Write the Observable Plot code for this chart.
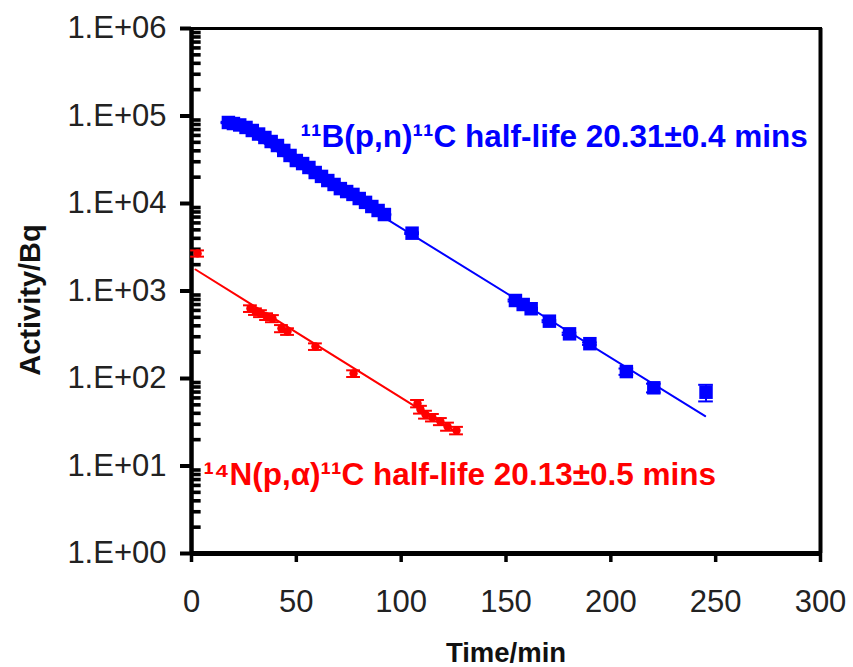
<!DOCTYPE html>
<html><head><meta charset="utf-8">
<script src="https://cdn.jsdelivr.net/npm/d3@7"></script>
<script src="https://cdn.jsdelivr.net/npm/@observablehq/plot@0.6"></script>
<style>body{margin:0;background:#fff;}</style>
</head><body><div id="chart"></div>
<script>
// ---- data ----
// 11B(p,n)11C (blue squares)
const blueT   = [17.6,20,23,26,29,32,35,38,41,44,47,50,53,56,59,62,65,68,71,74,77,80,83,86,89,92,
                 105.2,154.5,158.2,162.0,170.7,180.3,190.0,207.4,220.5,245.4];
const blueA   = [84300,82000,79000,74000,68300,62200,56800,51100,46000,40400,35400,31000,28600,25800,22600,20400,18300,16500,14800,13700,12700,11400,10300,9240,8320,7480,
                 4580,779,701,627,452,324,250,120,78.3,69.7];
const blueErr = [1500,1500,1400,1300,1200,1100,1000,900,800,700,620,540,500,450,400,360,320,290,260,240,220,200,180,160,145,130,
                 100,20,18,15,12,10,8,10,9,15];
// 14N(p,alpha)11C (red points)
const redT   = [2.9,28.1,30.5,32.9,35.8,38.6,42.9,45.8,59.1,77.3,107.8,109.2,111.6,114.9,118.7,122.1,126.4];
const redA   = [2690,631,583,553,511,485,373,345,232,114,51.8,44.2,38.8,35.8,32.3,28.3,25.5];
const redErr = [220,55,50,50,45,45,35,30,20,10,5,4.5,4,3.5,3,3,2.5];
// exponential fits (end points of the drawn lines)
const blueFitT = [17, 245];
const blueFitA = [89100, 37.2];
const redFitT  = [1.9, 125];
const redFitA  = [1760, 25.5];
// annotations
const labelText  = ["¹¹B(p,n)¹¹C half-life 20.31±0.4 mins", "¹⁴N(p,α)¹¹C half-life 20.13±0.5 mins"];
const labelT     = [52, 5.7];
const labelA     = [57700, 8.0];
const labelColor = ["#0000ff", "#ff0000"];
// axes
const xTicks = [0, 50, 100, 150, 200, 250, 300];
const yTicks = [1, 10, 100, 1000, 10000, 100000, 1000000];
const minorMult = [2, 3, 4, 5, 6, 7, 8, 9];
const xTitle = "Time/min";
const yTitle = "Activity/Bq";

// ---- tables built from the arrays ----
const blue = blueT.map((t, i) => ({t, A: blueA[i], e: blueErr[i]}));
const red  = redT.map((t, i) => ({t, A: redA[i], e: redErr[i]}));
const blueFit = blueFitT.map((t, i) => ({t, A: blueFitA[i]}));
const redFit  = redFitT.map((t, i) => ({t, A: redFitA[i]}));
const labels = labelText.map((s, i) => ({s, t: labelT[i], A: labelA[i], c: labelColor[i]}));
const minors = yTicks.slice(0, -1).flatMap(d => minorMult.map(m => m * d));

const capB = 3.5, capR = 3.3;
const fmt = d => "1.E+" + String(Math.round(Math.log10(d))).padStart(2, "0");

const chart = Plot.plot({
  width: 853, height: 667,
  marginLeft: 191, marginRight: 33, marginTop: 28, marginBottom: 114,
  style: {fontFamily: "'Liberation Sans', Arial, sans-serif", fontSize: "31px", color: "black", background: "white"},
  x: {domain: [0, 300]},
  y: {type: "log", domain: [1, 1e6]},
  marks: [
    Plot.frame({stroke: "black", strokeWidth: 3}),
    Plot.axisX({ticks: xTicks, tickSize: 9, tickPadding: 27, strokeWidth: 3.5, label: null, fill: "#222", fontSize: 31}),
    Plot.axisY({ticks: yTicks, tickSize: 11, tickPadding: 14, strokeWidth: 4, tickFormat: fmt, label: null, fill: "#222", fontSize: 31}),
    Plot.ruleY(minors, {x1: 0, x2: 4.6, stroke: "black", strokeWidth: 3.6}),
    Plot.ruleX([0], {stroke: "black", strokeWidth: 4.5}),
    Plot.ruleY([1], {stroke: "black", strokeWidth: 5}),
    Plot.ruleX([300], {stroke: "black", strokeWidth: 4}),
    // fit lines
    Plot.line(blueFit, {x: "t", y: "A", stroke: "#0000ff", strokeWidth: 2}),
    Plot.line(redFit, {x: "t", y: "A", stroke: "#ff0000", strokeWidth: 2}),
    // blue error bars + squares
    Plot.ruleX(blue, {x: "t", y1: d => d.A - d.e, y2: d => d.A + d.e, stroke: "#0000ff", strokeWidth: 2}),
    Plot.ruleY(blue, {y: d => d.A - d.e, x1: d => d.t - capB, x2: d => d.t + capB, stroke: "#0000ff", strokeWidth: 2}),
    Plot.ruleY(blue, {y: d => d.A + d.e, x1: d => d.t - capB, x2: d => d.t + capB, stroke: "#0000ff", strokeWidth: 2}),
    Plot.dot(blue, {x: "t", y: "A", symbol: "square", r: 7.6, fill: "#0000ff", stroke: "none"}),
    // red error bars + points
    Plot.ruleX(red, {x: "t", y1: d => d.A - d.e, y2: d => d.A + d.e, stroke: "#ff0000", strokeWidth: 2}),
    Plot.ruleY(red, {y: d => d.A - d.e, x1: d => d.t - capR, x2: d => d.t + capR, stroke: "#ff0000", strokeWidth: 2}),
    Plot.ruleY(red, {y: d => d.A + d.e, x1: d => d.t - capR, x2: d => d.t + capR, stroke: "#ff0000", strokeWidth: 2}),
    Plot.dot(red, {x: "t", y: "A", r: 4.2, fill: "#ff0000", stroke: "none"}),
    // annotations
    Plot.text(labels, {x: "t", y: "A", text: "s", fill: "c", textAnchor: "start", lineAnchor: "middle",
      fontSize: 31.5, fontWeight: "bold", ariaLabel: "reaction-label"}),
    // axis titles
    Plot.text([xTitle], {x: () => 150, y: () => 1, dy: 100, text: d => d, fontSize: 27.5, fontWeight: "bold", lineAnchor: "middle", fill: "#111"}),
    Plot.text([yTitle], {x: () => 0, y: () => 1000, dx: -161, dy: 9, rotate: -90, text: d => d, fontSize: 29, fontWeight: "bold", lineAnchor: "middle", fill: "#111", ariaLabel: "y-title"})
  ]
});
document.getElementById("chart").appendChild(chart);

// y title is slightly stretched along its length in the reference
d3.select(chart).selectAll('g[aria-label="y-title"] text').attr("letter-spacing", "1.8px");

// render superscripts (¹ ⁴) as raised tspans and α in a serif face
const supMap = {"¹": "1", "⁴": "4"};
d3.select(chart).selectAll('g[aria-label="reaction-label"] text').each(function () {
  const node = d3.select(this);
  const s = node.text();
  node.text(null);
  const runs = [];
  for (const ch of s) {
    const kind = supMap[ch] ? "sup" : ch === "α" ? "alpha" : "norm";
    const c = supMap[ch] || ch;
    if (runs.length && runs[runs.length - 1].kind === kind) runs[runs.length - 1].txt += c;
    else runs.push({kind, txt: c});
  }
  let raised = false;
  for (const r of runs) {
    const ts = node.append("tspan").text(r.txt);
    if (r.kind === "sup") {
      ts.attr("font-size", 20);
      if (!raised) { ts.attr("dy", -12); raised = true; }
    } else {
      if (raised) { ts.attr("dy", 12); raised = false; }
      if (r.kind === "alpha") ts.attr("font-family", "'DejaVu Serif', serif").attr("font-weight", "normal");
    }
  }
});
</script></body></html>
